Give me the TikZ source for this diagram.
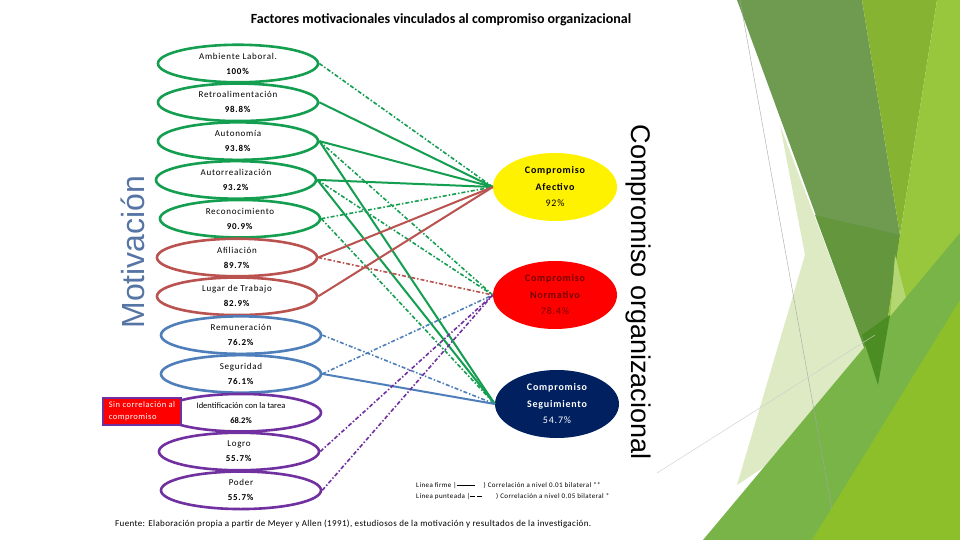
\documentclass[tikz,border=0pt]{standalone}
\usepackage{fontspec}
\setmainfont{Carlito}
\newfontfamily\bigsans{Liberation Sans}
\usetikzlibrary{shapes.geometric}

\definecolor{fgreen}{RGB}{20,158,80}
\definecolor{fbrown}{RGB}{186,82,80}
\definecolor{fblue}{RGB}{79,127,186}
\definecolor{fpurple}{RGB}{112,48,160}
\definecolor{cnavy}{RGB}{0,32,96}
\definecolor{motblue}{RGB}{86,116,164}
\definecolor{nortxt}{RGB}{115,0,0}

\newcommand{\spaced}[1]{\addfontfeature{LetterSpace=#1}}

\begin{document}
\begin{tikzpicture}[x=1pt,y=-1pt,
      font=\fontsize{9}{15}\selectfont\spaced{8},
      fac/.style={draw=#1, ellipse, line width=2.6pt, minimum width=160pt,
                  minimum height=37.5pt, inner sep=0pt, align=center},
      com/.style={ellipse, fill=#1, minimum width=124pt, minimum height=68pt,
                  inner sep=0pt, align=center,
                  font=\fontsize{10}{16.5}\selectfont\bfseries\spaced{8}},
      lf/.style={draw=#1, line width=2pt},
      lp/.style={draw=#1, line width=1.6pt, dash pattern=on 4pt off 2pt on 1.5pt off 2pt},
      legtxt/.style={anchor=west, inner sep=0pt, font=\fontsize{7}{8}\selectfont\spaced{6}},
    ]
    \useasboundingbox (0,0) rectangle (960,540);
    % fondo
    \fill[white] (0,0) rectangle (960,540);
    \fill[color={rgb,255:red,222;green,234;blue,196}] (780,125) -- (880,390) -- (737,485) -- (805,255) -- cycle;
    \fill[color={rgb,255:red,110;green,155;blue,80}] (737,0) -- (862,0) -- (900,235) -- (878,385) -- cycle;
    \fill[color={rgb,255:red,100;green,150;blue,62}] (815,215) -- (900,235) -- (878,385) -- cycle;
    \fill[color={rgb,255:red,134;green,180;blue,50}] (862,0) -- (937,0) -- (900,235) -- cycle;
    \fill[color={rgb,255:red,152;green,198;blue,60}] (937,0) -- (960,0) -- (960,540) -- (830,540) -- (878,385) -- (900,235) -- cycle;
    \fill[color={rgb,255:red,180;green,214;blue,115}] (895,255) -- (918,345) -- (885,385) -- cycle;
    \fill[color={rgb,255:red,120;green,180;blue,72}] (703,540) -- (960,233) -- (960,540) -- cycle;
    \fill[color={rgb,255:red,75;green,140;blue,35}] (862,335) -- (890,315) -- (878,385) -- cycle;
    \fill[color={rgb,255:red,140;green,191;blue,42}] (812,540) -- (960,300) -- (960,540) -- cycle;
    \draw[gray!70, line width=0.4pt] (740,0) -- (832,510);
    \draw[gray!40, line width=0.4pt] (657,473) -- (875,335);

    % titulo
    \node[font=\fontsize{14}{16}\selectfont\bfseries] (tit) at (441,20)
      {Factores motivacionales vinculados al compromiso organizacional};

    % factores de motivacion
    \node[fac=fgreen]   (amb)  at (238,63.5)  {Ambiente Laboral.\\\textbf{100\%}};
    \node[fac=fgreen]   (ret)  at (238,102.3) {Retroalimentación\\\textbf{98.8\%}};
    \node[fac=fgreen]   (aut)  at (238,141.1) {Autonomía\\\textbf{93.8\%}};
    \node[fac=fgreen]   (autr) at (236,179.9) {Autorrealización\\\textbf{93.2\%}};
    \node[fac=fgreen]   (rec)  at (240,218.7) {Reconocimiento\\\textbf{90.9\%}};
    \node[fac=fbrown]   (afi)  at (237,257.5) {Afiliación\\\textbf{89.7\%}};
    \node[fac=fbrown]   (lug)  at (237,296.3) {Lugar de Trabajo\\\textbf{82.9\%}};
    \node[fac=fblue]    (rem)  at (241,335.1) {Remuneración\\\textbf{76.2\%}};
    \node[fac=fblue]    (segu) at (241,373.9) {Seguridad\\\textbf{76.1\%}};
    \node[fac=fpurple, font=\fontsize{8.5}{15}\selectfont] (ide) at (241,412.7)
      {Identificación con la tarea\\\textbf{68.2\%}};
    \node[fac=fpurple]  (log)  at (239,451.5) {Logro\\\textbf{55.7\%}};
    \node[fac=fpurple]  (pod)  at (241,490.3) {Poder\\\textbf{55.7\%}};
    \node[draw=fpurple, line width=2pt, fill=red, text=white, align=left,
          minimum width=78pt, minimum height=27pt, inner sep=2pt,
          font=\fontsize{8.5}{12}\selectfont\spaced{6}] (sin) at (142,411)
      {Sin correlación al\\compromiso};

    % tipos de compromiso
    \node[com=yellow]            (afe) at (555,187) {Compromiso\\Afectivo\\\mdseries 92\%};
    \node[com=red, text=nortxt]  (nor) at (555,295) {Compromiso\\Normativo\\\mdseries 78.4\%};
    \node[com=cnavy, text=white] (sgm) at (557,404) {Compromiso\\Seguimiento\\\mdseries 54.7\%};

    % ejes
    \node[rotate=90, text=motblue, font=\bigsans\fontsize{32}{32}\selectfont] (mot) at (133,252) {Motivación};
    \node[rotate=-90, font=\bigsans\fontsize{27}{27}\selectfont] (org) at (638,292) {Compromiso organizacional};

    % correlaciones
    \draw[lp=fgreen] (amb.east)  -- (afe.west);
    \draw[lf=fgreen] (ret.east)  -- (afe.west);
    \draw[lf=fgreen] (aut.east)  -- (afe.west);
    \draw[lf=fgreen] (aut.east)  -- (sgm.west);
    \draw[lp=fgreen] (aut.east)  -- (nor.west);
    \draw[lf=fgreen] (autr.east) -- (afe.west);
    \draw[lf=fgreen] (autr.east) -- (sgm.west);
    \draw[lp=fgreen] (autr.east) -- (nor.west);
    \draw[lp=fgreen] (rec.east)  -- (afe.west);
    \draw[lp=fgreen] (rec.east)  -- (sgm.west);
    \draw[lf=fbrown] (afi.east)  -- (afe.west);
    \draw[lp=fbrown] (afi.east)  -- (nor.west);
    \draw[lf=fbrown] (lug.east)  -- (afe.west);
    \draw[lp=fblue]  (rem.east)  -- (sgm.west);
    \draw[lp=fblue]  (segu.east) -- (nor.west);
    \draw[lf=fblue]  (segu.east) -- (sgm.west);
    \draw[lp=fpurple] (log.east) -- (nor.west);
    \draw[lp=fpurple] (pod.east) -- (nor.west);

    % leyenda y fuente
    \node[legtxt] (ley1) at (416,486) {Línea firme \textbar\rule[0.6ex]{18pt}{0.5pt}\hspace{9pt}) Correlación a nivel 0.01 bilateral **};
    \node[legtxt] (ley2) at (416,497) {Línea punteada \textbar\rule[0.6ex]{5pt}{0.9pt}\hspace{2pt}\rule[0.6ex]{5pt}{0.9pt}\hspace{14pt}) Correlación a nivel 0.05 bilateral *};
    \node[anchor=west, inner sep=0pt, font=\fontsize{9}{11}\selectfont\spaced{4}] (fue) at (115,524)
      {Fuente: Elaboración propia a partir de Meyer y Allen (1991), estudiosos de la motivación y resultados de la investigación.};
  \end{tikzpicture}
\end{document}
